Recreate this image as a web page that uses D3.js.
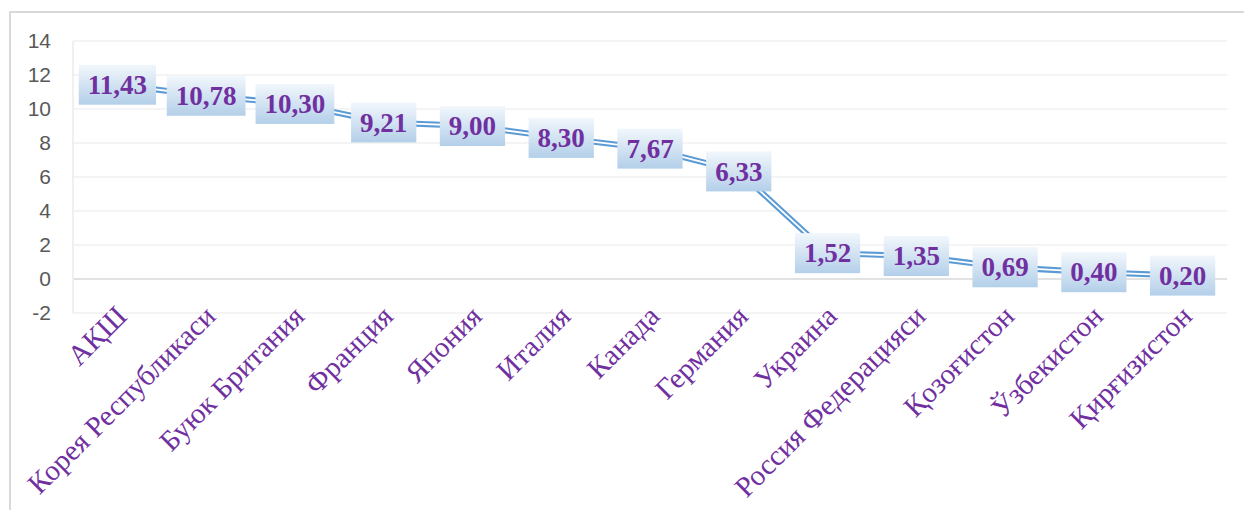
<!DOCTYPE html>
<html>
<head>
<meta charset="utf-8">
<script src="https://cdn.jsdelivr.net/npm/d3@7"></script>
<style>
  body { margin: 0; background: #fff; }
  svg { display: block; }
</style>
</head>
<body>
<script>
// countries (uzbek cyrillic) and their values
var countries = ["АҚШ", "Корея Республикаси", "Буюк Британия", "Франция", "Япония", "Италия",
  "Канада", "Германия", "Украина", "Россия Федерацияси", "Қозоғистон", "Ўзбекистон", "Қирғизистон"];
var values = [11.43, 10.78, 10.30, 9.21, 9.00, 8.30, 7.67, 6.33, 1.52, 1.35, 0.69, 0.40, 0.20];
var yTicks = [-2, 0, 2, 4, 6, 8, 10, 12, 14];

var W = 1244, H = 510;
var margin = {top: 41, right: 17, bottom: 197, left: 73},
    width = W - margin.left - margin.right,
    height = H - margin.top - margin.bottom;

var svg = d3.select("body").append("svg")
    .attr("width", W)
    .attr("height", H);

// outer chart border
svg.append("rect")
    .attr("x", 10).attr("y", 12)
    .attr("width", 1245).attr("height", 520)
    .attr("fill", "none")
    .attr("stroke", "#d9d9d9")
    .attr("stroke-width", 2);

var defs = svg.append("defs");
var grad = defs.append("linearGradient")
    .attr("id", "boxGrad")
    .attr("x1", 0).attr("y1", 0).attr("x2", 0).attr("y2", 1);
grad.append("stop").attr("offset", "0%").attr("stop-color", "#f2f7fc");
grad.append("stop").attr("offset", "100%").attr("stop-color", "#b3cfe9");

var g = svg.append("g")
    .attr("transform", "translate(" + margin.left + "," + margin.top + ")");

var x = d3.scaleBand()
    .domain(countries)
    .range([0, width]);
var y = d3.scaleLinear()
    .domain([-2, 14])
    .range([height, 0]);

// gridlines
g.selectAll(".grid")
    .data(yTicks)
  .enter().append("line")
    .attr("class", "grid")
    .attr("x1", 0).attr("x2", width)
    .attr("y1", function(d) { return y(d); })
    .attr("y2", function(d) { return y(d); })
    .attr("stroke", function(d) { return d === 0 ? "#d9d9d9" : "#f0f0f0"; })
    .attr("stroke-width", 1.5);

// left edge of plot area
g.append("line")
    .attr("x1", 0).attr("x2", 0)
    .attr("y1", 0).attr("y2", height)
    .attr("stroke", "#ebebeb")
    .attr("stroke-width", 1.5);

// y axis labels (plain hyphen for -2, like the original)
var yAxis = g.append("g")
    .call(d3.axisLeft(y).tickValues(yTicks).tickSize(0).tickPadding(22)
      .tickFormat(function(d) { return String(d); }));
yAxis.select(".domain").remove();
yAxis.selectAll("text")
    .attr("fill", "#595959")
    .style("font-family", "'Liberation Sans', Arial, sans-serif")
    .style("font-size", "21px");

// x axis labels, rotated
var xAxis = g.append("g")
    .attr("transform", "translate(0," + height + ")")
    .call(d3.axisBottom(x).tickSize(0).tickPadding(0));
xAxis.select(".domain").remove();
xAxis.selectAll("text")
    .attr("fill", "#7030a0")
    .attr("text-anchor", "end")
    .attr("dy", null)
    .attr("y", 0)
    .attr("transform", "translate(11,5) rotate(-45)")
    .style("font-family", "'Liberation Serif', 'Times New Roman', serif")
    .style("font-size", "29px");

// the double line
var line = d3.line()
    .x(function(d, i) { return x(countries[i]) + x.bandwidth() / 2; })
    .y(function(d) { return y(d); });

g.append("path")
    .datum(values)
    .attr("d", line)
    .attr("fill", "none")
    .attr("stroke", "#5b9bd5")
    .attr("stroke-width", 6);
g.append("path")
    .datum(values)
    .attr("d", line)
    .attr("fill", "none")
    .attr("stroke", "#fff")
    .attr("stroke-width", 1.8);

// data labels with gradient boxes
var lab = g.selectAll(".lab")
    .data(values)
  .enter().append("g")
    .attr("class", "lab")
    .attr("transform", function(d, i) {
      return "translate(" + (x(countries[i]) + x.bandwidth() / 2) + "," + y(d) + ")";
    });

lab.append("rect")
    .attr("fill", "url(#boxGrad)");

lab.append("text")
    .attr("text-anchor", "middle")
    .attr("dy", "0.34em")
    .attr("fill", "#7030a0")
    .style("font-family", "'Liberation Serif', 'Times New Roman', serif")
    .style("font-weight", "bold")
    .style("font-size", "27px")
    .text(function(d) { return d.toFixed(2).replace(".", ","); });

lab.each(function() {
  var t = d3.select(this).select("text").node();
  var w = t.getComputedTextLength() + 18;
  d3.select(this).select("rect")
    .attr("x", -w / 2).attr("y", -20)
    .attr("width", w).attr("height", 40);
});
</script>
</body>
</html>
